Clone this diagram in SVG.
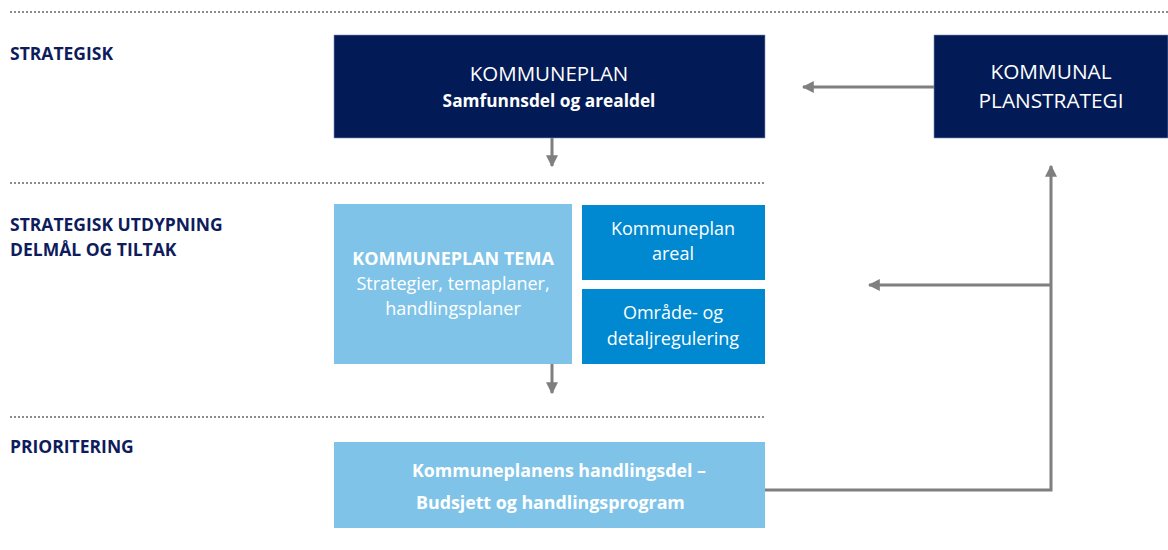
<svg xmlns="http://www.w3.org/2000/svg" width="1168" height="550" viewBox="0 0 1168 550">
<style>
.dots{stroke:#8c8c8c;stroke-width:2;stroke-dasharray:2 2;fill:none}
.lbl{font-family:"Open Sans","Liberation Sans",sans-serif;font-weight:bold;font-size:17.5px;fill:#0E1C5C}
.wt{font-family:"Open Sans","Liberation Sans",sans-serif;fill:#ffffff;text-anchor:middle}
.conn{stroke:#7f7f7f;stroke-width:3;fill:none}
</style>
<defs>
<marker id="ah" viewBox="0 0 10 10" refX="9" refY="5" markerWidth="4" markerHeight="4" orient="auto" markerUnits="strokeWidth">
<path d="M0,0 L10,5 L0,10 z" fill="#7f7f7f"/>
</marker>
</defs>
<rect width="1168" height="550" fill="#ffffff"/>
<g id="separators">
<line class="dots" x1="10" y1="12" x2="1168" y2="12"/>
<line class="dots" x1="10" y1="183" x2="765" y2="183"/>
<line class="dots" x1="10" y1="417" x2="765" y2="417"/>
</g>
<g id="labels">
<text class="lbl" x="10" y="60">STRATEGISK</text>
<text class="lbl" x="10" y="231">STRATEGISK UTDYPNING</text>
<text class="lbl" x="10" y="256">DELMÅL OG TILTAK</text>
<text class="lbl" x="10" y="453">PRIORITERING</text>
</g>
<g id="connectors">
<line class="conn" x1="552" y1="138" x2="552" y2="166" marker-end="url(#ah)"/>
<line class="conn" x1="934" y1="87" x2="803" y2="87" marker-end="url(#ah)"/>
<line class="conn" x1="552" y1="364" x2="552" y2="393" marker-end="url(#ah)"/>
<polyline class="conn" points="765,490 1051,490 1051,166" marker-end="url(#ah)"/>
<line class="conn" x1="1051" y1="285" x2="869" y2="285" marker-end="url(#ah)"/>
</g>
<g id="kommuneplan">
<rect x="334" y="35" width="431" height="103" fill="#021B56" stroke="#8090b8" stroke-width="0.6"/>
<text class="wt" x="549" y="81" font-size="20.5">KOMMUNEPLAN</text>
<text class="wt" x="549" y="107" font-size="17.3" font-weight="bold">Samfunnsdel og arealdel</text>
</g>
<g id="planstrategi">
<rect x="934" y="35" width="234" height="103" fill="#021B56" stroke="#8090b8" stroke-width="0.6"/>
<text class="wt" x="1051" y="79" font-size="20.8">KOMMUNAL</text>
<text class="wt" x="1051" y="108" font-size="20.8">PLANSTRATEGI</text>
</g>
<g id="tema">
<rect x="334" y="204" width="238" height="160" fill="#7FC4E8"/>
<text class="wt" x="453" y="265" font-size="18" font-weight="bold">KOMMUNEPLAN TEMA</text>
<text class="wt" x="453" y="290" font-size="18">Strategier, temaplaner,</text>
<text class="wt" x="453" y="315" font-size="18">handlingsplaner</text>
</g>
<g id="areal">
<rect x="582" y="205" width="183" height="75" fill="#0089D1"/>
<text class="wt" x="673" y="235" font-size="18">Kommuneplan</text>
<text class="wt" x="673" y="260" font-size="18">areal</text>
</g>
<g id="regulering">
<rect x="582" y="289" width="183" height="75" fill="#0089D1"/>
<text class="wt" x="673" y="319" font-size="18">Område- og</text>
<text class="wt" x="673" y="345" font-size="18">detaljregulering</text>
</g>
<g id="handlingsdel">
<rect x="334" y="442" width="431" height="86" fill="#7FC4E8"/>
<text class="wt" x="412" y="477" font-size="17.8" font-weight="bold" style="text-anchor:start">Kommuneplanens handlingsdel  –</text>
<text class="wt" x="416" y="509" font-size="17.8" font-weight="bold" style="text-anchor:start">Budsjett og handlingsprogram</text>
</g>
</svg>
